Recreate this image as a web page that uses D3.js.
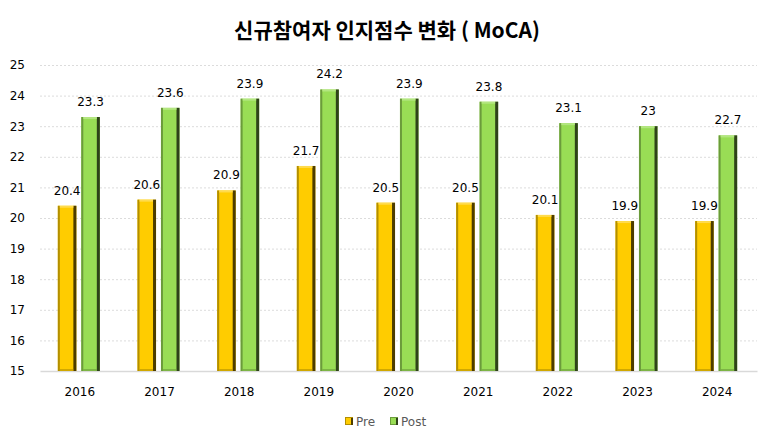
<!DOCTYPE html>
<html>
<head>
<meta charset="utf-8">
<script src="https://cdn.jsdelivr.net/npm/d3@7"></script>
<style>
  body { margin: 0; background: #fff; }
  text { font-family: "DejaVu Sans", Verdana, sans-serif; }
</style>
</head>
<body>
<script>
// chart data
var years = ['2016', '2017', '2018', '2019', '2020', '2021', '2022', '2023', '2024'];
var preValues = [20.4, 20.6, 20.9, 21.7, 20.5, 20.5, 20.1, 19.9, 19.9];
var postValues = [23.3, 23.6, 23.9, 24.2, 23.9, 23.8, 23.1, 23, 22.7];
var seriesNames = ['Pre', 'Post'];
var yTicks = [15, 16, 17, 18, 19, 20, 21, 22, 23, 24, 25];

var W = 771, H = 445;
var svg = d3.select('body').append('svg')
    .attr('width', W)
    .attr('height', H);

// colours per series: main, left edge, right shadow, top cap
var colors = {
  Pre:  { main: '#ffcc00', left: '#b38f00', right: '#4d3d00', top: '#ffdb4d' },
  Post: { main: '#99dd55', left: '#6b9b3b', right: '#2e4219', top: '#b3e680' }
};

var x = d3.scaleBand().domain(years).range([40, 757]);
var xSub = d3.scaleBand().domain(seriesNames).range([-22, 20]).paddingInner(0.21);
var y = d3.scaleLinear().domain([15, 25]).range([371, 65]);

// title
svg.append('text')
  .attr('x', 387).attr('y', 38)
  .attr('text-anchor', 'middle')
  .style('font-family', '"Noto Sans CJK KR", sans-serif')
  .style('font-weight', 'bold')
  .style('font-size', '21px')
  .attr('fill', '#000')
  .text('신규참여자 인지점수 변화 ( MoCA)');

// gridlines
svg.append('g').selectAll('line')
  .data(yTicks.filter(function (t) { return t > 15; }))
  .enter().append('line')
  .attr('x1', 40).attr('x2', 757)
  .attr('y1', function (d) { return y(d) + 0.5; })
  .attr('y2', function (d) { return y(d) + 0.5; })
  .attr('stroke', '#dcdcdc')
  .attr('stroke-dasharray', '2,2');

// y axis labels
var yAxis = d3.axisLeft(y).tickValues(yTicks).tickSize(0).tickPadding(0);
var gy = svg.append('g').attr('transform', 'translate(25,0)').call(yAxis);
gy.select('.domain').remove();
gy.selectAll('text').style('font-size', '12px').attr('fill', '#000')
  .attr('text-anchor', 'end').attr('dx', 0);

// x axis
var xAxis = d3.axisBottom(x).tickSize(0).tickPadding(16);
var gx = svg.append('g').attr('transform', 'translate(0,371)').call(xAxis);
gx.select('.domain').attr('stroke', '#d9d9d9').attr('stroke-width', 1.5);
gx.selectAll('text').style('font-size', '12px').attr('fill', '#000');

// bars
var rows = years.map(function (yr, i) {
  return { year: yr, Pre: preValues[i], Post: postValues[i] };
});

function drawBar(g, sx, bw, v, c) {
  var top = y(v), h = y(15) - top;
  g.append('rect').attr('x', sx).attr('y', top).attr('width', bw).attr('height', h).attr('fill', c.main);
  g.append('rect').attr('x', sx).attr('y', top).attr('width', 2).attr('height', h).attr('fill', c.left);
  g.append('rect').attr('x', sx + bw - 3).attr('y', top).attr('width', 3).attr('height', h).attr('fill', c.right);
  g.append('rect').attr('x', sx + 2).attr('y', top).attr('width', bw - 5).attr('height', 2).attr('fill', c.top);
  g.append('rect').attr('x', sx + 2).attr('y', y(15) - 2).attr('width', bw - 5).attr('height', 2).attr('fill', c.left).attr('opacity', 0.6);
}

var groups = svg.append('g').selectAll('g')
  .data(rows)
  .enter().append('g')
  .attr('transform', function (d) { return 'translate(' + (x(d.year) + x.bandwidth() / 2) + ',0)'; });

groups.each(function (d) {
  var g = d3.select(this);
  seriesNames.forEach(function (s) {
    var sx = xSub(s), bw = xSub.bandwidth();
    drawBar(g, sx, bw, d[s], colors[s]);
    g.append('text')
      .attr('x', sx + bw / 2)
      .attr('y', y(d[s]) - 11)
      .attr('text-anchor', 'middle')
      .style('font-size', '12px')
      .attr('fill', '#000')
      .text(d[s]);
  });
});

// legend
var legend = svg.append('g').attr('transform', 'translate(345,417)');
var legendX = [0, 45];
seriesNames.forEach(function (s, i) {
  var lg = legend.append('g').attr('transform', 'translate(' + legendX[i] + ',0)');
  lg.append('rect').attr('x', 0).attr('y', 0).attr('width', 8).attr('height', 8).attr('fill', colors[s].left);
  lg.append('rect').attr('x', 1).attr('y', 1).attr('width', 5).attr('height', 6).attr('fill', colors[s].main);
  lg.append('rect').attr('x', 6).attr('y', 1).attr('width', 2).attr('height', 7).attr('fill', colors[s].right);
  lg.append('text').attr('x', 11).attr('y', 9)
    .style('font-size', '12px').attr('fill', '#595959')
    .text(s);
});
</script>
</body>
</html>
